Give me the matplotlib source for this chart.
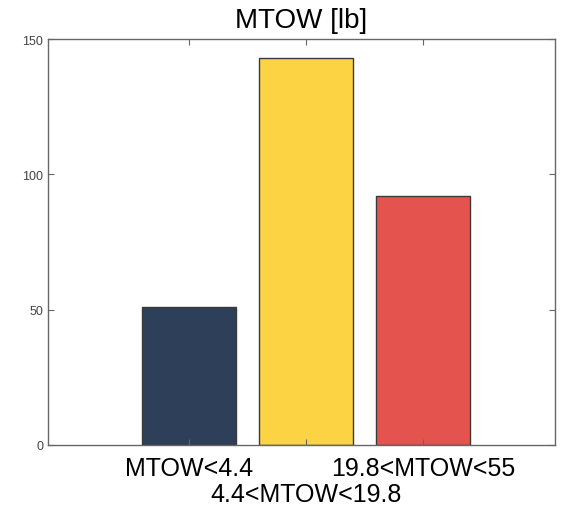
import matplotlib
matplotlib.use('Agg')
import matplotlib.pyplot as plt

# data
categories = ['MTOW<4.4', '4.4<MTOW<19.8', '19.8<MTOW<55']
counts = [51, 143, 92]
colors = ['#2e3f5a', '#fcd443', '#e5534f']
positions = [1, 2, 3]

plt.rcParams['font.family'] = ['Liberation Sans', 'DejaVu Sans']

fig = plt.figure(figsize=(5.68, 5.10), dpi=100)
ax = fig.add_axes([0.0845, 0.1255, 0.8925, 0.796])

ax.bar(positions, counts, width=0.8, color=colors, edgecolor='#3a3a3a', linewidth=1.0)

ax.set_xlim(-0.205, 4.13)
ax.set_ylim(0, 150)
ax.set_yticks([0, 50, 100, 150])

ax.set_xticks(positions)
ax.set_xticklabels(categories, fontsize=18)

ax.tick_params(axis='x', direction='in', top=True, length=4, pad=8, colors='#666666', labelcolor='black')
ax.tick_params(axis='y', direction='in', right=True, length=4, labelsize=9, colors='#666666', labelcolor='#444444')

# middle label drops to a second row, like the original
ax.xaxis.get_major_ticks()[1].set_pad(27)

for s in ax.spines.values():
    s.set_color('#666666')
    s.set_linewidth(1.0)

ax.set_title('MTOW [lb]', fontsize=20, pad=9)

fig.savefig('out.png', dpi=100)
